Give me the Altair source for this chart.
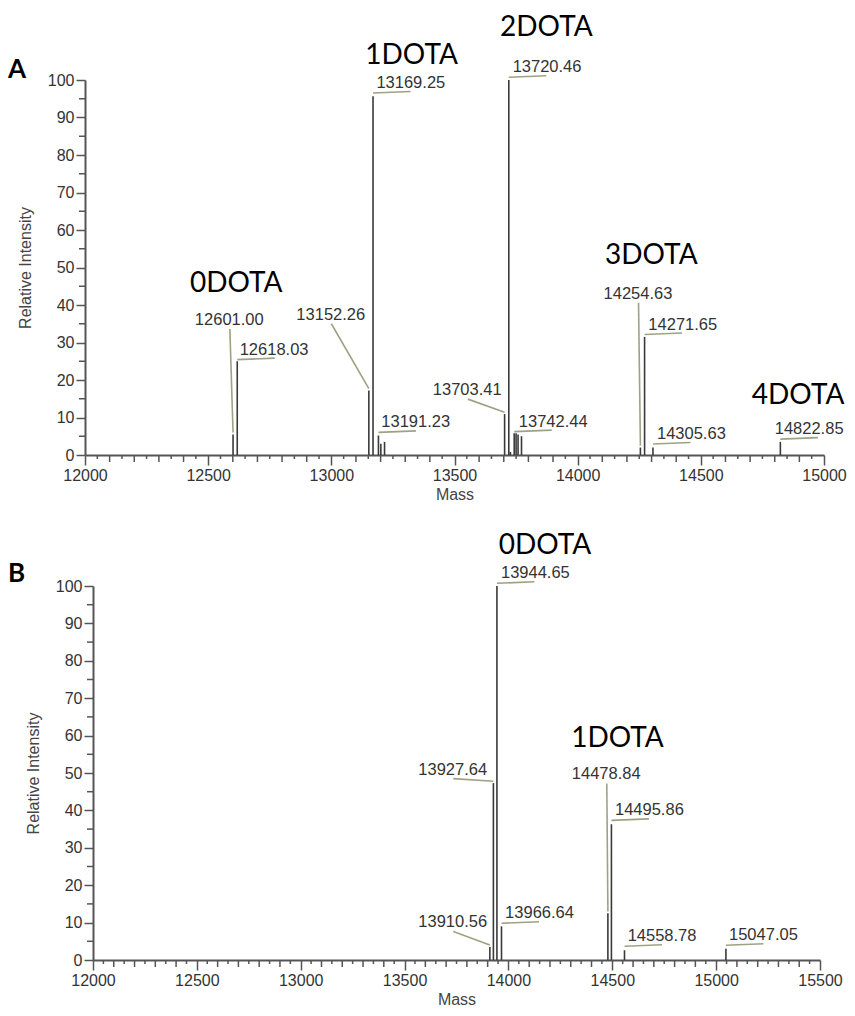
import altair as alt
import pandas as pd

# ---------------- Panel A data ----------------
a_mass = [12601.00, 12618.03, 13152.26, 13169.25, 13191.23, 13201.0, 13216.0,
          13703.41, 13720.46, 13727.0, 13742.44, 13750.0, 13758.0, 13772.0,
          14254.63, 14271.65, 14305.63, 14822.85]
a_int = [5.5, 25.0, 17.2, 95.7, 5.2, 3.0, 3.5,
         10.9, 100.0, 0.8, 5.8, 5.8, 5.5, 5.0,
         2.0, 31.5, 2.0, 3.5]

a_lab_mass = [12601.00, 12618.03, 13152.26, 13169.25, 13191.23, 13703.41,
              13720.46, 13742.44, 14254.63, 14271.65, 14305.63, 14822.85]
a_lab_x = [12446, 12628, 12858, 13183, 13203, 13412, 13736, 13761, 14105, 14287, 14322, 14800]
a_lab_y = [36.0, 28.1, 37.4, 99.2, 8.7, 17.3, 103.4, 8.9, 43.0, 34.8, 5.6, 6.9]
a_lab_kind = ["lead", "under", "lead", "under", "under", "lead",
              "under", "under", "lead", "under", "under", "under"]

a_grp = ["0DOTA", "1DOTA", "2DOTA", "3DOTA", "4DOTA"]
a_grp_x = [12614, 13326, 13873, 14299, 14895]
a_grp_y = [45.6, 106.5, 113.8, 53.1, 15.8]

# ---------------- Panel B data ----------------
b_mass = [13910.56, 13927.64, 13944.65, 13966.64, 14478.84, 14495.86, 14558.78, 15047.05]
b_int = [3.5, 47.3, 100.0, 9.0, 12.5, 36.3, 2.6, 3.0]

b_lab_mass = [13910.56, 13927.64, 13944.65, 13966.64, 14478.84, 14495.86, 14558.78, 15047.05]
b_lab_x = [13566, 13566, 13964, 13984, 14305, 14513, 14574, 15062]
b_lab_y = [10.05, 50.9, 103.4, 12.5, 49.6, 40.0, 6.35, 6.6]
b_lab_kind = ["lead", "lead", "under", "under", "lead", "under", "under", "under"]

b_grp = ["0DOTA", "1DOTA"]
b_grp_x = [14176, 14525]
b_grp_y = [110.6, 59.0]

y_major = list(range(0, 101, 10))
y_minor = list(range(5, 100, 10))

AXIS_COLOR = "#555555"
PEAK_COLOR = "#3a3a3a"
LEAD_COLOR = "#9ea283"
TXT_COLOR = "#333333"
FONT = "Liberation Sans"


def panel(masses, ints, lab_mass, lab_x, lab_y, lab_kind, grp, grp_x, grp_y,
          xmax, x0, plot_w, height, letter, letter_dx, letter_dy):
    # x0: horizontal inset (px) of this panel's plot inside the shared column
    ppx = plot_w / (xmax - 12000.0)
    ppy = height / 100.0
    x_major = list(range(12000, xmax + 1, 500))
    x_mid = [v for v in range(12100, xmax, 100) if v % 500 != 0]
    x_small = list(range(12050, xmax, 100))

    peaks = pd.DataFrame({"mass": masses, "int": ints, "zero": [0.0] * len(masses)})
    lookup = dict(zip(masses, ints))

    labs = pd.DataFrame({"mass": lab_x, "int": lab_y,
                         "text": ["%.2f" % m for m in lab_mass]})
    rows = []
    for m, lx, ly, k in zip(lab_mass, lab_x, lab_y, lab_kind):
        if k == "under":
            rows.append({"mass": m, "int": ly - 10 / ppy,
                         "mass2": m + 37.5 / ppx, "int2": ly - 8.5 / ppy})
        else:
            rows.append({"mass": lx + 35 / ppx, "int": ly - 9 / ppy,
                         "mass2": m, "int2": lookup[m] + 0.5})
    conn = pd.DataFrame(rows)
    groups = pd.DataFrame({"mass": grp_x, "int": grp_y, "text": grp})

    xs = alt.Scale(domain=[12000, xmax], range=[x0, x0 + plot_w], nice=False, zero=False)
    ys = alt.Scale(domain=[0, 100], nice=False, zero=True)
    x_axis = alt.Axis(values=x_major, format="d", title="Mass", tickSize=10,
                      labelFlush=False, labelOverlap=False, grid=False,
                      titlePadding=3)
    y_axis = alt.Axis(values=y_major, title="Relative Intensity", tickSize=9,
                      labelFlush=False, labelOverlap=False, grid=False,
                      titlePadding=14, offset=-x0)
    X = alt.X("mass:Q", scale=xs, axis=x_axis)
    Y = alt.Y("int:Q", scale=ys, axis=y_axis)

    peak_layer = alt.Chart(peaks).mark_rule(color=PEAK_COLOR, strokeWidth=1.6).encode(
        x=X, y=Y, y2="zero:Q")
    conn_layer = alt.Chart(conn).mark_rule(color=LEAD_COLOR, strokeWidth=1.6).encode(
        x=X, y=Y, x2="mass2:Q", y2="int2:Q")
    lab_layer = alt.Chart(labs).mark_text(
        align="left", baseline="middle", font=FONT, fontSize=16.5, color=TXT_COLOR
    ).encode(x=X, y=Y, text="text:N")
    grp_layer = alt.Chart(groups).mark_text(
        align="center", baseline="middle", font="Lato", fontSize=28, color="#000000"
    ).encode(x=X, y=Y, text="text:N")

    mid_ticks = alt.Chart(pd.DataFrame({"mass": x_mid})).mark_rule(
        color=AXIS_COLOR, strokeWidth=1.5).encode(
        x=X, y=alt.value(height), y2=alt.value(height + 7))
    small_ticks = alt.Chart(pd.DataFrame({"mass": x_small})).mark_rule(
        color=AXIS_COLOR, strokeWidth=1.5).encode(
        x=X, y=alt.value(height), y2=alt.value(height + 4))
    y_ticks = alt.Chart(pd.DataFrame({"int": y_minor})).mark_rule(
        color=AXIS_COLOR, strokeWidth=1.5).encode(
        y=Y, x=alt.value(x0), x2=alt.value(x0 - 6))
    letter_layer = alt.Chart(pd.DataFrame({"t": [letter]})).mark_text(
        align="left", baseline="middle", font="Lato", fontSize=26,
        fontWeight="bold", color="#000000"
    ).encode(x=alt.value(letter_dx), y=alt.value(letter_dy), text="t:N")

    return alt.layer(peak_layer, conn_layer, mid_ticks, small_ticks, y_ticks,
                     lab_layer, grp_layer, letter_layer).properties(
        width=x0 + plot_w, height=height)


pa = panel(a_mass, a_int, a_lab_mass, a_lab_x, a_lab_y, a_lab_kind,
           a_grp, a_grp_x, a_grp_y, 15000, 0, 739, 375, "A", -77, -10)
pb = panel(b_mass, b_int, b_lab_mass, b_lab_x, b_lab_y, b_lab_kind,
           b_grp, b_grp_x, b_grp_y, 15500, 8, 727, 374, "B", -77, -12)

chart = alt.vconcat(pa, pb, spacing=30).configure_view(
    stroke=None).configure_axis(
    domainColor=AXIS_COLOR, domainWidth=2, tickColor=AXIS_COLOR, tickWidth=1.5,
    labelFont=FONT, labelFontSize=16, labelColor=TXT_COLOR, labelPadding=2,
    titleFont=FONT, titleFontSize=16, titleFontWeight="normal", titleColor="#444444"
).properties(background="white",
             padding={"left": 0, "top": 6, "right": 0, "bottom": 0})

chart.save("out.html", embed_options={"renderer": "svg", "actions": False})
